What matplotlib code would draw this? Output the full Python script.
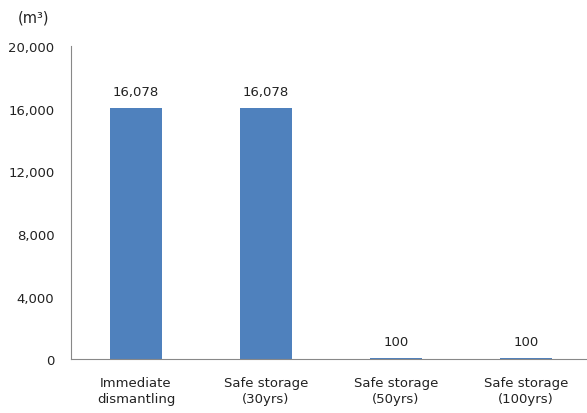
import matplotlib
matplotlib.use("Agg")
import matplotlib.pyplot as plt
from matplotlib.ticker import FuncFormatter

# waste volume by decommissioning option
categories = ["Immediate\ndismantling", "Safe storage\n(30yrs)", "Safe storage\n(50yrs)", "Safe storage\n(100yrs)"]
volumes = [16078, 16078, 100, 100]
yticks = [0, 4000, 8000, 12000, 16000, 20000]

plt.rcParams['font.family'] = ['DejaVu Sans']

fig = plt.figure(figsize=(5.87, 4.14), dpi=100)
ax = fig.add_axes([0.121, 0.130, 0.879, 0.756])

x = list(range(len(categories)))
bars = ax.bar(x, volumes, width=0.4, color="#4F81BD")

for xi, v in zip(x, volumes):
    ax.text(xi, v + 600, "{:,}".format(v), ha="center", va="bottom", fontsize=9.5, color="#222222")

ax.set_xlim(-0.5, 3.47)
ax.set_ylim(0, 20000)
ax.set_yticks(yticks)
ax.yaxis.set_major_formatter(FuncFormatter(lambda v, p: "{:,}".format(int(v))))
ax.set_xticks(x)
ax.set_xticklabels(categories, fontsize=9.5, color="#222222", linespacing=1.35)
ax.tick_params(axis="y", length=0, pad=12, labelsize=9.5, labelcolor="#222222")
ax.tick_params(axis="x", length=0, pad=12)

for s in ["top", "right"]:
    ax.spines[s].set_visible(False)
ax.spines["left"].set_color("#888888")
ax.spines["bottom"].set_color("#888888")

fig.text(0.030, 0.957, "(m³)", fontsize=10.5, color="#222222", va="center")

fig.savefig("out.png", dpi=100)
